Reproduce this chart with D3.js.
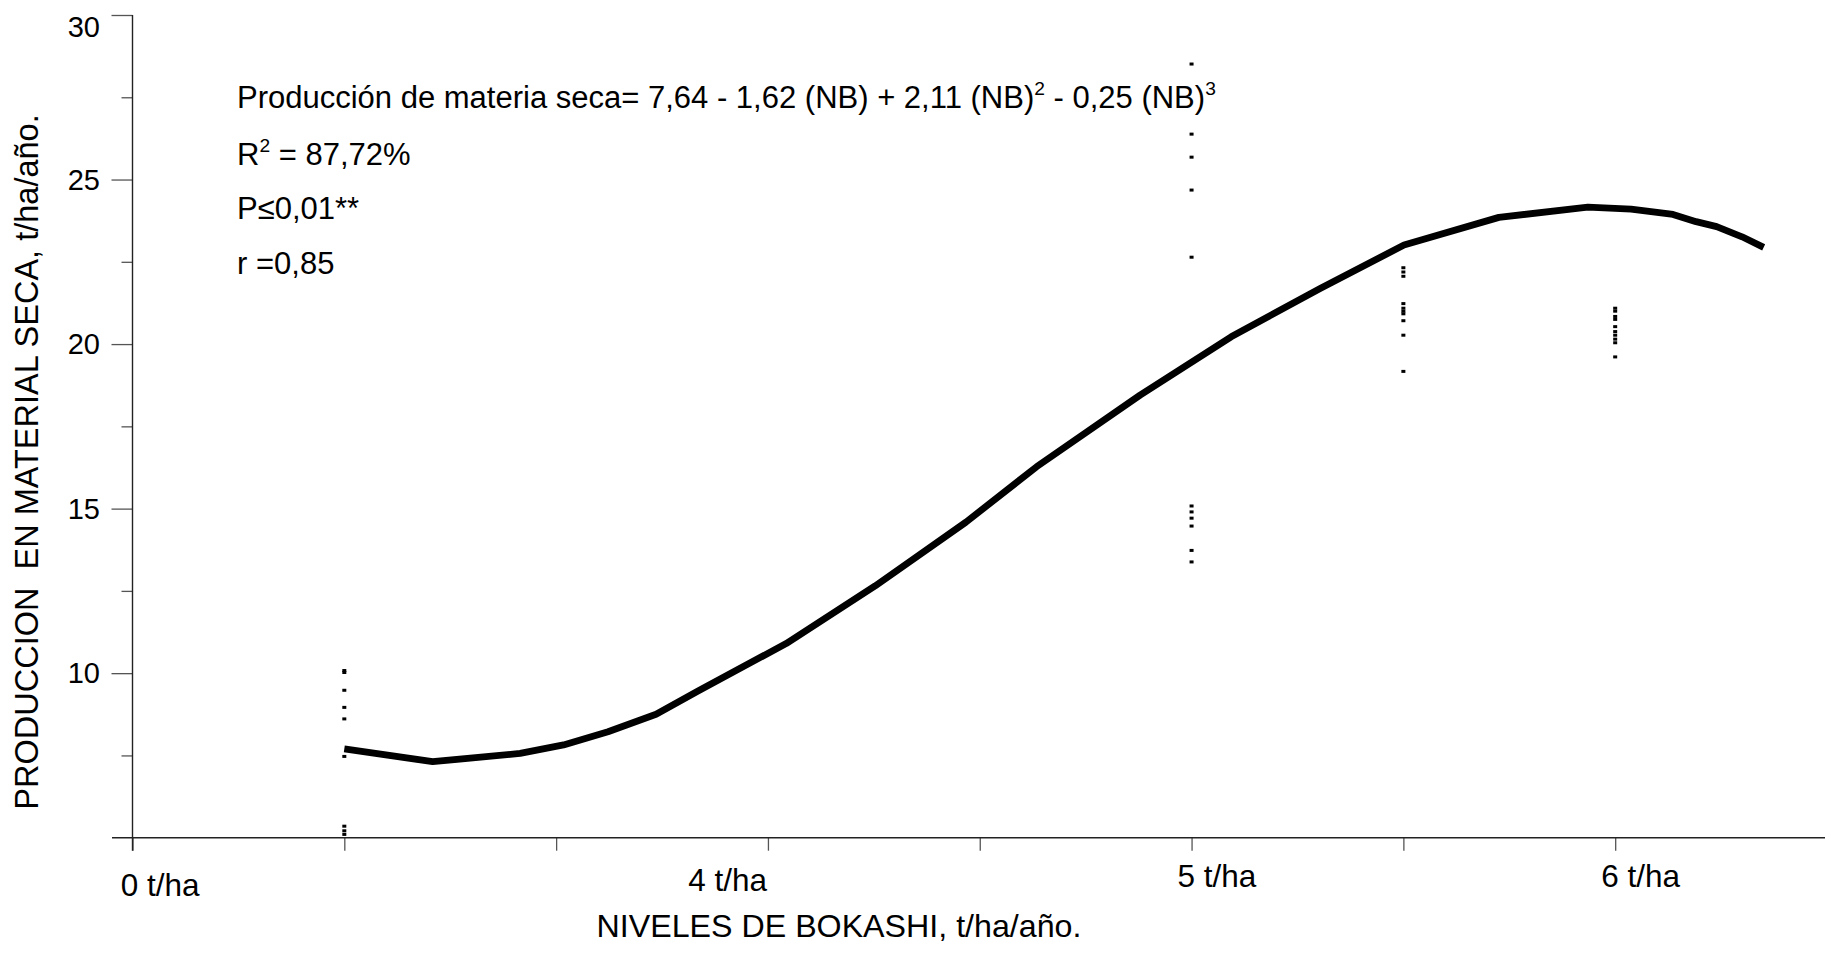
<!DOCTYPE html>
<html>
<head>
<meta charset="utf-8">
<script src="https://cdn.jsdelivr.net/npm/d3@7"></script>
<style>
  body { margin: 0; background: #fff; }
  svg { display: block; font-family: "Liberation Sans", Arial, sans-serif; }
  .tick line { stroke: #555; stroke-width: 1.3; }
</style>
</head>
<body>
<div class="chart"></div>
<script>
// data
const xTicks = [0, 1, 2, 3, 4, 5, 6, 7];
const xLabelPos = [0.13, 2.81, 5.12, 7.12];
const xLabelText = ["0 t/ha", "4 t/ha", "5 t/ha", "6 t/ha"];

const yMajor = [10, 15, 20, 25, 30];
const yMinor = [7.5, 12.5, 17.5, 22.5, 27.5];

// fitted curve (polyline vertices)
const curveX = [1.0, 1.417, 1.83, 2.035, 2.245, 2.472, 2.67, 3.086, 3.506, 3.935, 4.268, 4.757, 5.187, 5.607, 6.003, 6.451, 6.871, 7.075, 7.273, 7.382, 7.479, 7.599, 7.701];
const curveY = [7.7, 7.31, 7.56, 7.82, 8.22, 8.75, 9.46, 10.9, 12.65, 14.59, 16.27, 18.45, 20.22, 21.69, 23.01, 23.85, 24.16, 24.1, 23.94, 23.72, 23.57, 23.26, 22.94];

// observations, one array per column
const obsCol1 = [10.08, 10.02, 9.48, 8.96, 8.61, 7.47, 5.35, 5.21, 5.1];
const obsCol5 = [28.51, 26.38, 25.68, 24.68, 22.64, 15.08, 14.9, 14.71, 14.47, 13.73, 13.38];
const obsCol6 = [22.32, 22.19, 22.06, 21.23, 21.09, 21.0, 20.92, 20.71, 20.27, 19.17];
const obsCol7 = [21.09, 21.0, 20.84, 20.75, 20.53, 20.38, 20.27, 20.15, 20.04, 19.61];

const equation = "Producción de materia seca= 7,64 - 1,62 (NB) + 2,11 (NB)";
const r2Text = "87,72%";
const pText = "P≤0,01**";
const rText = "r =0,85";

const WIDTH = 1825;
const HEIGHT = 973;
const FONT = 31;

const svg = d3.select(".chart")
    .append("svg")
    .attr("width", WIDTH)
    .attr("height", HEIGHT);

const x = d3.scaleLinear().domain([0, 8]).range([132.5, 1827]);
const y = d3.scaleLinear().domain([5, 30]).range([837.7, 15]);

// y axis ticks
svg.append("g")
    .attr("transform", `translate(${x(0)},0)`)
    .call(d3.axisLeft(y).tickValues(yMajor).tickSize(21).tickFormat(""))
    .call(g => g.select(".domain").remove());

svg.append("g")
    .attr("transform", `translate(${x(0)},0)`)
    .call(d3.axisLeft(y).tickValues(yMinor).tickSize(11).tickFormat(""))
    .call(g => g.select(".domain").remove());

// top label can't sit above the frame, so it drops down
svg.append("g")
    .selectAll("text")
    .data(yMajor)
    .enter()
    .append("text")
    .attr("x", 100)
    .attr("y", d => Math.max(y(d) + 10, 37))
    .attr("text-anchor", "end")
    .attr("font-size", 29)
    .text(d => d);

// x axis ticks
svg.append("g")
    .attr("transform", `translate(0,${y(5)})`)
    .call(d3.axisBottom(x).tickValues(xTicks).tickSize(13).tickFormat(""))
    .call(g => g.select(".domain").remove());

const xLabelDrop = [9, 4, 0, 0];
svg.append("g")
    .selectAll("text")
    .data(xLabelPos)
    .enter()
    .append("text")
    .attr("x", d => x(d))
    .attr("y", (d, i) => 887 + xLabelDrop[i])
    .attr("text-anchor", "middle")
    .attr("font-size", 31.5)
    .text((d, i) => xLabelText[i]);

// axis lines
svg.append("line")
    .attr("x1", 112).attr("x2", WIDTH)
    .attr("y1", y(5)).attr("y2", y(5))
    .attr("stroke", "#222").attr("stroke-width", 1.6);

svg.append("line")
    .attr("x1", x(0)).attr("x2", x(0))
    .attr("y1", y(30)).attr("y2", y(5) + 13)
    .attr("stroke", "#222").attr("stroke-width", 1.4);

// axis titles
svg.append("text")
    .attr("transform", `translate(38,462) rotate(-90)`)
    .attr("text-anchor", "middle")
    .attr("font-size", 32.5)
    .attr("xml:space", "preserve")
    .text("PRODUCCION  EN MATERIAL SECA, t/ha/año.");

svg.append("text")
    .attr("x", 839)
    .attr("y", 937)
    .attr("text-anchor", "middle")
    .attr("font-size", 32.2)
    .text("NIVELES DE BOKASHI, t/ha/año.");

// observations
const cols = [
    { x: 1, values: obsCol1 },
    { x: 5, values: obsCol5 },
    { x: 6, values: obsCol6 },
    { x: 7, values: obsCol7 }
];

svg.append("g")
    .selectAll("g")
    .data(cols)
    .enter()
    .append("g")
    .selectAll("rect")
    .data(c => c.values.map(v => ({ x: c.x, v: v })))
    .enter()
    .append("rect")
    .attr("x", d => x(d.x) - 2)
    .attr("y", d => y(d.v) - 1.5)
    .attr("width", 4)
    .attr("height", 3)
    .attr("fill", "#000");

// regression curve
const line = d3.line()
    .x(d => x(d[0]))
    .y(d => y(d[1]));

svg.append("path")
    .datum(curveX.map((cx, i) => [cx, curveY[i]]))
    .attr("d", line)
    .attr("fill", "none")
    .attr("stroke", "#000")
    .attr("stroke-width", 6.8)
    .attr("stroke-linejoin", "round");

// equation and stats
const notes = svg.append("g").attr("font-size", FONT);

const eq = notes.append("text").attr("x", 237).attr("y", 108);
eq.append("tspan").text(equation);
eq.append("tspan").attr("font-size", FONT * 0.62).attr("dy", -13).text("2");
eq.append("tspan").attr("dy", 13).text(" - 0,25 (NB)");
eq.append("tspan").attr("font-size", FONT * 0.62).attr("dy", -13).text("3");

const r2 = notes.append("text").attr("x", 237).attr("y", 165);
r2.append("tspan").text("R");
r2.append("tspan").attr("font-size", FONT * 0.62).attr("dy", -13).text("2");
r2.append("tspan").attr("dy", 13).text(" = " + r2Text);

notes.append("text").attr("x", 237).attr("y", 219).text(pText);
notes.append("text").attr("x", 237).attr("y", 274).text(rText);
</script>
</body>
</html>
